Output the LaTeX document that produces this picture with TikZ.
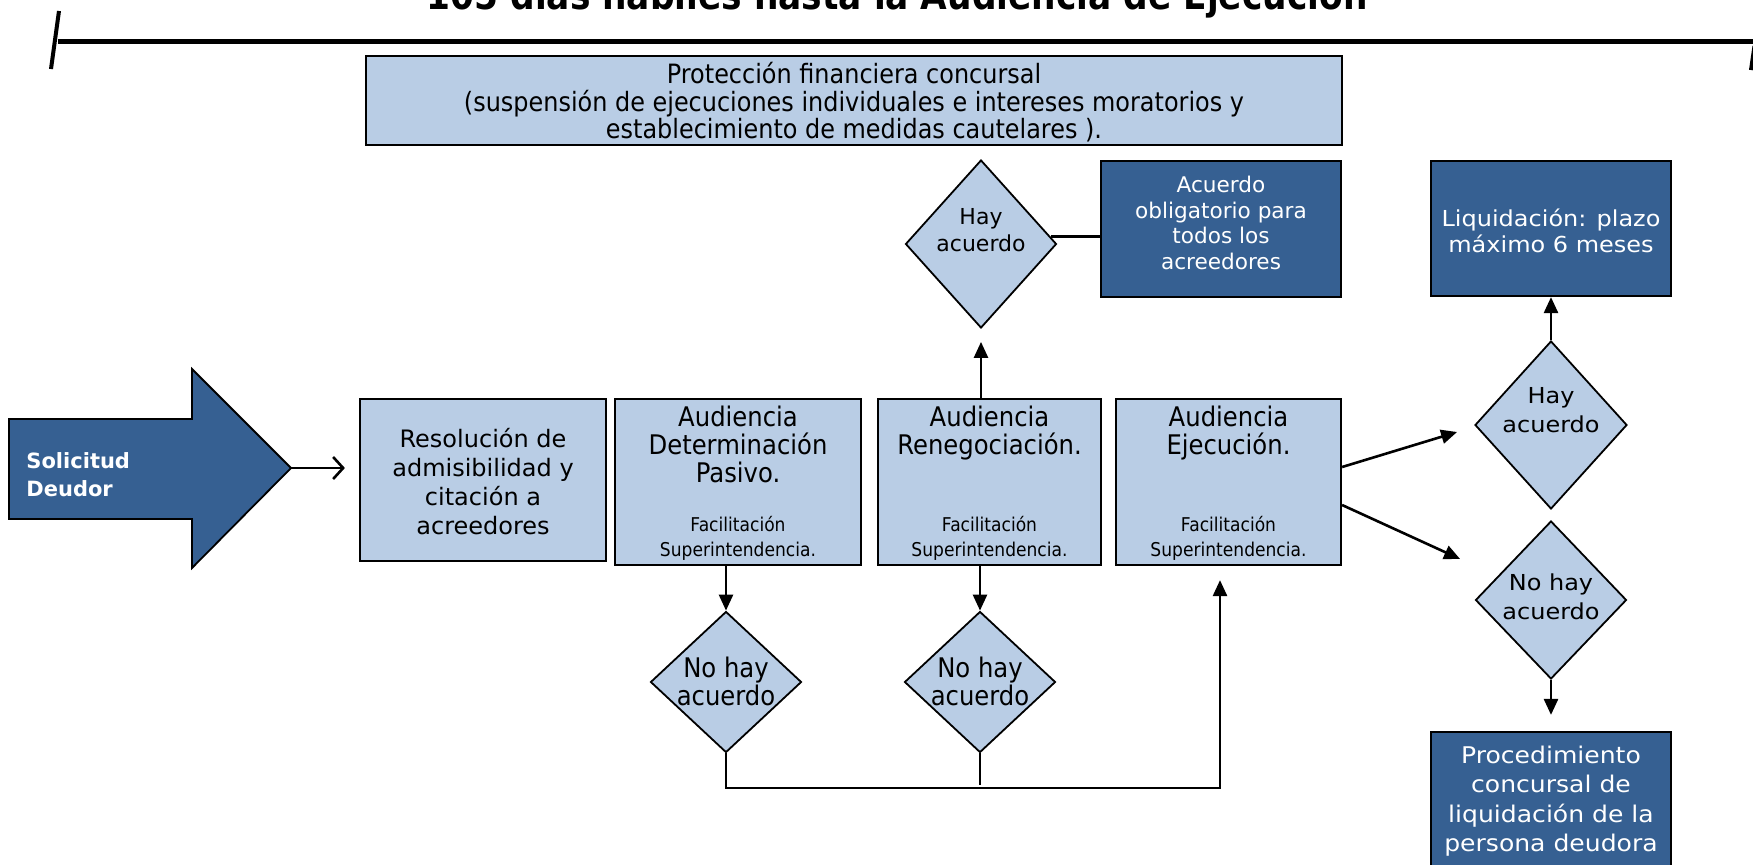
\documentclass[tikz,border=0pt]{standalone}
\usepackage{fontspec}
\setmainfont{DejaVu Sans}
\newfontfamily\condf[FakeStretch=0.9]{DejaVu Sans}
\newfontfamily\widef[FakeStretch=1.09]{DejaVu Sans}
\newfontfamily\titlef[FakeStretch=0.86]{DejaVu Sans}
\usetikzlibrary{shapes.geometric,arrows.meta}
\definecolor{lightb}{RGB}{185,205,229}
\definecolor{darkb}{RGB}{54,96,146}
\tikzset{
  lbox/.style={draw=black, line width=1.1pt, fill=lightb, inner sep=0pt},
  dbox/.style={draw=black, line width=1.1pt, fill=darkb, inner sep=0pt},
  dia/.style={diamond, draw=black, line width=0.9pt, fill=lightb, inner sep=0pt},
  conn/.style={line width=1.3pt},
  arr/.style={conn, -{Triangle[length=8pt,width=7pt]}},
  txt/.style={align=center, inner sep=0pt},
  wtxt/.style={txt, text=white},
}
\begin{document}
\begin{tikzpicture}[x=0.5pt,y=-0.5pt]
\useasboundingbox (0,0) rectangle (1753,864);
\fill[white] (0,0) rectangle (1753,864);

% title and time line
\node[anchor=base, inner sep=0pt, font=\titlef\bfseries\fontsize{20}{24}\selectfont] (title) at (897,9) {105 días hábiles hasta la Audiencia de Ejecución};
\coordinate (tl) at (58,41);
\coordinate (tr) at (1753,41);
\draw[line width=2.5pt] (tl) -- (tr);
\draw[line width=2pt] (59,11) -- (51,69);
\draw[line width=2pt] (1754.5,46) -- (1751,70);

% top box
\node[lbox, minimum width=488pt, minimum height=44.5pt] (prot) at (854,100.5) {};
\node[txt, font=\condf\fontsize{13.3}{13.75}\selectfont] (prott) at (854,102.5) {Protección financiera concursal\\(suspensión de ejecuciones individuales e intereses moratorios y\\establecimiento de medidas cautelares ).};

% Solicitud arrow
\draw[line width=0.9pt, fill=darkb] (9,419) -- (192,419) -- (192,369) -- (291,468) -- (192,568) -- (192,519) -- (9,519) -- cycle;
\coordinate (soltip) at (291,468);
\node[anchor=west, align=left, inner sep=0pt, text=white, font=\bfseries\fontsize{10.5}{14}\selectfont] (sol) at (26,475) {Solicitud\\Deudor};

% main row
\node[lbox, minimum width=123pt, minimum height=81pt] (res) at (483,480) {};
\node[txt, font=\fontsize{12}{14.5}\selectfont] (rest) at (483,482) {Resolución de\\admisibilidad y\\citación a\\acreedores};

\node[lbox, minimum width=123pt, minimum height=83pt] (aud1) at (738,482) {};
\node[txt, font=\condf\fontsize{13.5}{14}\selectfont] (aud1t) at (738,444) {Audiencia\\Determinación\\Pasivo.};
\node[txt, font=\condf\fontsize{9.5}{12.3}\selectfont] (aud1s) at (738,538.5) {Facilitación\\Superintendencia.};

\node[lbox, minimum width=111.5pt, minimum height=83pt] (aud2) at (989.5,482) {};
\node[txt, font=\condf\fontsize{13.5}{14}\selectfont] (aud2t) at (989.5,433) {Audiencia\\Renegociación.};
\node[txt, font=\condf\fontsize{9.5}{12.3}\selectfont] (aud2s) at (989.5,538.5) {Facilitación\\Superintendencia.};

\node[lbox, minimum width=112.5pt, minimum height=83pt] (aud3) at (1228.5,482) {};
\node[txt, font=\condf\fontsize{13.5}{14}\selectfont] (aud3t) at (1228.5,433) {Audiencia\\Ejecución.};
\node[txt, font=\condf\fontsize{9.5}{12.3}\selectfont] (aud3s) at (1228.5,538.5) {Facilitación\\Superintendencia.};

% lower diamonds
\node[dia, minimum width=75.5pt, minimum height=70.5pt] (nd1) at (726,682) {};
\node[txt, font=\condf\fontsize{13.5}{14}\selectfont] (nd1t) at (726,681) {No hay\\acuerdo};
\node[dia, minimum width=75.5pt, minimum height=70.5pt] (nd2) at (980,682) {};
\node[txt, font=\condf\fontsize{13.5}{14}\selectfont] (nd2t) at (980,681) {No hay\\acuerdo};

% upper diamond and agreement box
\node[dia, minimum width=75.5pt, minimum height=84pt] (hay1) at (981,244) {};
\node[txt, font=\fontsize{11}{13.4}\selectfont] (hay1t) at (981,230) {Hay\\acuerdo};
\node[dbox, minimum width=120pt, minimum height=68pt] (acu) at (1221,229) {};
\node[wtxt, font=\fontsize{10.8}{12.9}\selectfont] (acut) at (1221,223) {Acuerdo\\obligatorio para\\todos los\\acreedores};

% right column
\node[dbox, minimum width=120pt, minimum height=67.5pt] (liq) at (1551,228.5) {};
\node[wtxt, font=\widef\fontsize{11}{12.9}\selectfont] (liqt) at (1551,231) {Liquidación: plazo\\máximo 6 meses};
\node[dia, minimum width=76pt, minimum height=84pt] (hay2) at (1551,425) {};
\node[txt, font=\widef\fontsize{11}{14.5}\selectfont] (hay2t) at (1551,410) {Hay\\acuerdo};
\node[dia, minimum width=75.5pt, minimum height=79pt] (nd3) at (1551,600) {};
\node[txt, font=\widef\fontsize{11}{14.5}\selectfont] (nd3t) at (1551,597) {No hay\\acuerdo};
\node[dbox, minimum width=120pt, minimum height=69pt] (proc) at (1551,801) {};
\node[wtxt, font=\widef\fontsize{11.5}{14.7}\selectfont] (proct) at (1551,801) {Procedimiento\\concursal de\\liquidación de la\\persona deudora};

% connectors
\draw[conn, -{Straight Barb[length=5pt,width=11pt]}, shorten >=7pt] (soltip) -- (soltip -| res.west);
\draw[arr] (aud1.south -| nd1.north) -- (nd1.north);
\draw[arr] (aud2.south -| nd2.north) -- (nd2.north);
\draw[arr, shorten >=6.5pt] (aud2.north -| hay1.south) -- (hay1.south);
\draw[conn] (hay1.6.7) -- (hay1.6.7 -| acu.west);
\draw[arr] (hay2.north) -- (liq.south);
\draw[arr, shorten >=8pt] (nd3.south) -- (proc.north);
\draw[arr] ([yshift=7.5pt]aud3.east) -- ([xshift=-8.5pt,yshift=-3.5pt]hay2.west);
\draw[arr] ([yshift=-11.5pt]aud3.east) -- ([xshift=-7.25pt,yshift=20.5pt]nd3.west);
\coordinate (loopc) at (1220,788);
\draw[arr, shorten >=7pt] (nd1.south) |- (loopc) -- (aud3.south -| loopc);
\draw[conn] (nd2.south) -- ([yshift=1.5pt]nd2.south |- loopc);
\end{tikzpicture}
\end{document}
